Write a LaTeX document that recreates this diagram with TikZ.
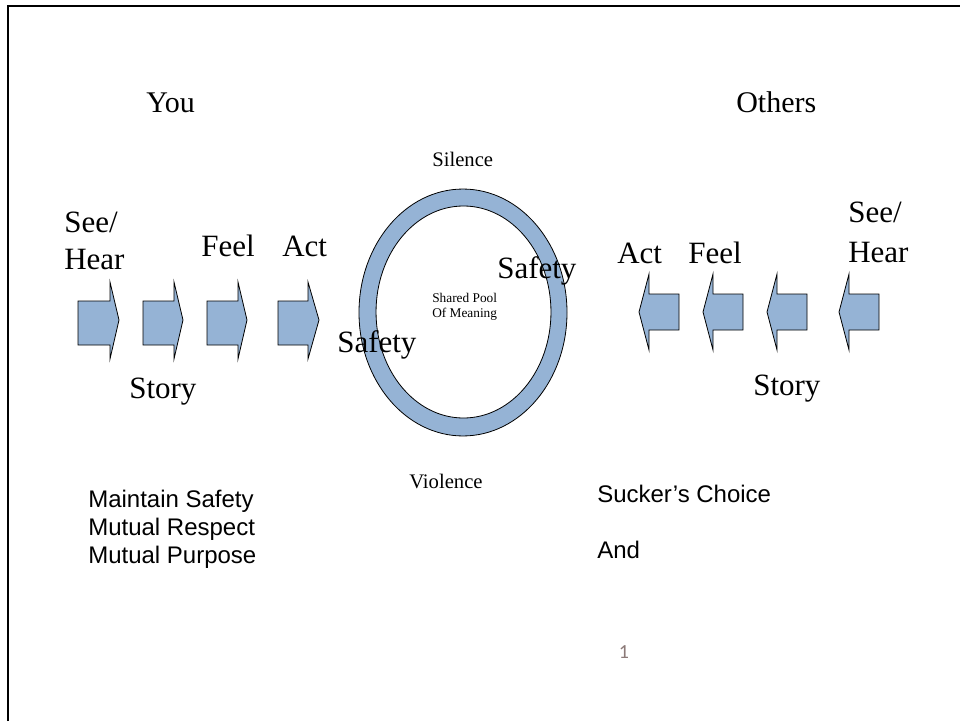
\documentclass[tikz,border=0pt]{standalone}
\usepackage{fontspec}
\setmainfont{Liberation Serif}
\newfontfamily\arialf{Liberation Sans}
\newfontfamily\numf{Carlito}
\definecolor{poolblue}{RGB}{149,179,213}
\definecolor{pagenum}{RGB}{140,122,120}
\tikzset{
  arrowbox/.style={fill=poolblue, draw=black, line width=0.6pt, line join=miter},
  bigword/.style={anchor=base west, inner sep=0pt, font=\fontsize{23.25}{27}\selectfont},
  headword/.style={anchor=base west, inner sep=0pt, font=\fontsize{22.5}{27}\selectfont},
  midword/.style={anchor=base west, inner sep=0pt, font=\fontsize{15.5}{18}\selectfont},
  smallword/.style={anchor=base west, inner sep=0pt, font=\fontsize{10}{12}\selectfont},
  sansword/.style={anchor=base west, inner sep=0pt, font=\arialf\fontsize{18}{21}\selectfont},
}
% right-pointing block arrow: shaft left, head base, tip x
\newcommand\blockR[3]{%
  \draw[arrowbox] (#1,301) -- (#2,301) -- (#2,282) -- (#3,320) -- (#2,359) -- (#2,345) -- (#1,345) -- cycle;}
% left-pointing block arrow: tip x, head base, shaft right
\newcommand\blockL[3]{%
  \draw[arrowbox] (#3,294) -- (#2,294) -- (#2,274) -- (#1,312) -- (#2,350) -- (#2,330) -- (#3,330) -- cycle;}
\begin{document}
\begin{tikzpicture}[x=0.75pt,y=-0.75pt]
\useasboundingbox (0,0) rectangle (960,721);
\fill[white] (0,0) rectangle (960,721);
% slide frame
\draw[line width=1.5pt] (8.3,721) -- (8.3,5.7) -- (960,5.7);

% left chain of arrows
\blockR{78}{110}{119}
\blockR{143}{174}{183}
\blockR{207}{238}{247}
\blockR{278}{308}{319}
% right chain of arrows
\blockL{639}{649}{679}
\blockL{703}{713}{743}
\blockL{767}{777}{807}
\blockL{839}{849}{879}

% the ring around the shared pool
\fill[poolblue, even odd rule] (463,312.5) ellipse [x radius=78pt, y radius=92.6pt]
                               (463.5,312) ellipse [x radius=65.6pt, y radius=79.5pt];
\draw[line width=0.6pt] (463,312.5) ellipse [x radius=78pt, y radius=92.6pt];
\draw[line width=0.6pt] (463.5,312) ellipse [x radius=65.6pt, y radius=79.5pt];

% headings
\node[headword] (you) at (146,112) {You};
\node[headword] (others) at (736,112) {Others};

% left labels
\node[bigword] (seeL) at (64,232) {See/};
\node[bigword] (hearL) at (64,269) {Hear};
\node[bigword] (feelL) at (201,256) {Feel};
\node[bigword] (actL) at (282,256) {Act};
\node[bigword] (storyL) at (129,398) {Story};

% right labels
\node[bigword] (seeR) at (848,222) {See/};
\node[bigword] (hearR) at (848,262) {Hear};
\node[bigword] (actR) at (617,263) {Act};
\node[bigword] (feelR) at (688,263) {Feel};
\node[bigword] (storyR) at (753,395) {Story};

% ring labels
\node[bigword] (safetyR) at (497,278) {Safety};
\node[bigword] (safetyL) at (337,352) {Safety};
\node[smallword] (pool1) at (432,302) {Shared Pool};
\node[smallword] (pool2) at (432,317) {Of Meaning};
\node[midword] (silence) at (432,166) {Silence};
\node[midword] (violence) at (409,488) {Violence};

% notes
\node[sansword] (note1) at (88,507) {Maintain Safety};
\node[sansword] (note2) at (88,535) {Mutual Respect};
\node[sansword] (note3) at (88,563) {Mutual Purpose};
\node[sansword] (choice) at (597,502) {Sucker’s Choice};
\node[sansword] (and) at (597,558) {And};

% page number
\node[anchor=base, inner sep=0pt, font=\numf\fontsize{15}{17}\selectfont, text=pagenum] (pnum) at (624,658) {1};
\end{tikzpicture}
\end{document}
